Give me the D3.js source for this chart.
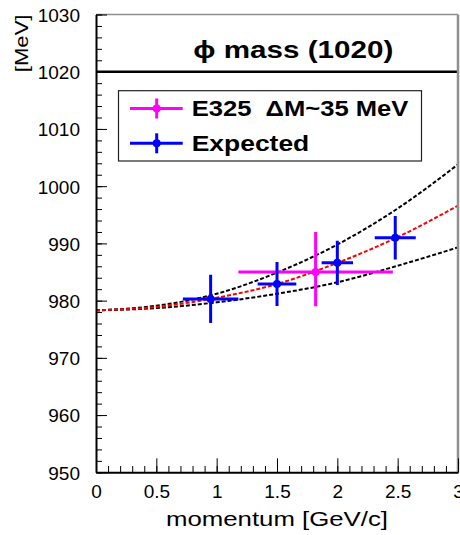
<!DOCTYPE html>
<html>
<head>
<meta charset="utf-8">
<script src="https://cdn.jsdelivr.net/npm/d3@7"></script>
<style>
  body { margin: 0; background: #fff; }
  text { font-family: "Liberation Sans", Helvetica, Arial, sans-serif; }
</style>
</head>
<body>
<script>
// curves
const momentum = [0, 0.5, 1, 1.5, 2, 2.5, 3];
const upperBand = [978.3, 979.1, 981.2, 984.9, 989.8, 996.1, 1003.8];
const centralCurve = [978.3, 978.9, 980.5, 982.9, 986.6, 991.1, 996.6];
const lowerBand = [978.3, 978.7, 979.7, 981.2, 983.2, 986.1, 989.3];

// E325 measurement
const e325P = [1.82];
const e325PErr = [0.64];
const e325M = [985.0];
const e325MErrUp = [7.0];
const e325MErrDown = [6.0];

// expected points
const expectedP = [0.95, 1.5, 2.0, 2.48];
const expectedPErr = [0.23, 0.16, 0.13, 0.17];
const expectedM = [980.3, 982.9, 986.6, 991.0];
const expectedMErr = [4.2, 3.85, 3.85, 3.8];

const phiMass = 1020;
const xTicks = [0, 0.5, 1, 1.5, 2, 2.5, 3];
const yTicks = [950, 960, 970, 980, 990, 1000, 1010, 1020, 1030];

const W = 460, H = 535;
const margin = { top: 14.5, right: 2, bottom: 62.7, left: 96 };

const svg = d3.select("body").append("svg")
    .attr("width", W)
    .attr("height", H);

const x = d3.scaleLinear().domain([0, 3]).range([margin.left, W - margin.right]);
const y = d3.scaleLinear().domain([950, 1030]).range([H - margin.bottom, margin.top]);

svg.append("clipPath").attr("id", "frame")
    .append("rect")
    .attr("x", x(0)).attr("y", y(1030))
    .attr("width", x(3) - x(0)).attr("height", y(950) - y(1030));

const plot = svg.append("g").attr("clip-path", "url(#frame)");

// curves
const line = d3.line()
    .x(d => x(d[0]))
    .y(d => y(d[1]))
    .curve(d3.curveMonotoneX);

const curves = [
    { vals: upperBand, color: "#000" },
    { vals: lowerBand, color: "#000" },
    { vals: centralCurve, color: "#ff0000" }
];
curves.forEach(c => {
    plot.append("path")
        .datum(momentum.map((p, i) => [p, c.vals[i]]))
        .attr("fill", "none")
        .attr("stroke", c.color)
        .attr("stroke-width", 2)
        .attr("stroke-dasharray", "4,2")
        .attr("d", line);
});

// phi mass line
plot.append("line")
    .attr("x1", x(0)).attr("x2", x(3))
    .attr("y1", y(phiMass)).attr("y2", y(phiMass))
    .attr("stroke", "#000")
    .attr("stroke-width", 2.5);

// error bar points
function drawPoints(ps, pErr, ms, mUp, mDown, color, r) {
    const g = plot.append("g");
    ps.forEach((p, i) => {
        g.append("line")
            .attr("x1", x(p - pErr[i])).attr("x2", x(p + pErr[i]))
            .attr("y1", y(ms[i])).attr("y2", y(ms[i]))
            .attr("stroke", color).attr("stroke-width", 3);
        g.append("line")
            .attr("x1", x(p)).attr("x2", x(p))
            .attr("y1", y(ms[i] + mUp[i])).attr("y2", y(ms[i] - mDown[i]))
            .attr("stroke", color).attr("stroke-width", 3);
        g.append("circle")
            .attr("cx", x(p)).attr("cy", y(ms[i]))
            .attr("r", r).attr("fill", color);
    });
}
drawPoints(e325P, e325PErr, e325M, e325MErrUp, e325MErrDown, "#ff00ff", 4);
drawPoints(expectedP, expectedPErr, expectedM, expectedMErr, expectedMErr, "#0000ff", 4);

// frame top / right (grey)
svg.append("line")
    .attr("x1", x(0)).attr("x2", x(3))
    .attr("y1", y(1030)).attr("y2", y(1030))
    .attr("stroke", "#909090").attr("stroke-width", 1.5);
svg.append("line")
    .attr("x1", x(3)).attr("x2", x(3))
    .attr("y1", y(1030)).attr("y2", y(950))
    .attr("stroke", "#909090").attr("stroke-width", 2.5);

// x axis
const xMinor = d3.range(0, 30.5, 1).map(v => v / 10);
svg.append("g")
    .attr("transform", "translate(0," + y(950) + ")")
    .call(d3.axisBottom(x).tickValues(xMinor).tickSize(-6.3).tickFormat(""))
    .call(g => g.select(".domain").remove());
const xAxis = svg.append("g")
    .attr("transform", "translate(0," + y(950) + ")")
    .call(d3.axisBottom(x).tickValues(xTicks).tickSize(-14).tickSizeOuter(0).tickPadding(12)
        .tickFormat(d3.format("")));
xAxis.select(".domain").attr("stroke-width", 2);
xAxis.selectAll("text").attr("font-size", 19).attr("fill", "#000").attr("dy", "0.72em");

// y axis
const yMinor = d3.range(950, 1031, 2);
svg.append("g")
    .attr("transform", "translate(" + x(0) + ",0)")
    .call(d3.axisLeft(y).tickValues(yMinor).tickSize(-6).tickFormat(""))
    .call(g => g.select(".domain").remove());
const yAxis = svg.append("g")
    .attr("transform", "translate(" + x(0) + ",0)")
    .call(d3.axisLeft(y).tickValues(yTicks).tickSize(-11).tickSizeOuter(0).tickPadding(16)
        .tickFormat(d3.format("d")));
yAxis.select(".domain").attr("stroke-width", 2);
yAxis.selectAll("text").attr("font-size", 19).attr("fill", "#000").attr("dy", "0.36em");

// axis titles
svg.append("text")
    .attr("x", (x(0) + x(3)) / 2)
    .attr("y", 526)
    .attr("text-anchor", "middle")
    .attr("font-size", 20)
    .attr("textLength", 222)
    .attr("lengthAdjust", "spacingAndGlyphs")
    .text("momentum [GeV/c]");

svg.append("text")
    .attr("transform", "translate(28," + y(1030) + ") rotate(-90)")
    .attr("text-anchor", "end")
    .attr("font-size", 18.5)
    .attr("textLength", 57.7)
    .attr("lengthAdjust", "spacingAndGlyphs")
    .text("[MeV]");

// title
svg.append("text")
    .attr("x", 293.3)
    .attr("y", 57.7)
    .attr("text-anchor", "middle")
    .attr("font-size", 24)
    .attr("font-weight", "bold")
    .attr("textLength", 200)
    .attr("lengthAdjust", "spacingAndGlyphs")
    .text("\u03D5 mass (1020)");

// legend
const legend = svg.append("g");
legend.append("rect")
    .attr("x", 118.5).attr("y", 90.7)
    .attr("width", 303).attr("height", 70.3)
    .attr("fill", "#fff")
    .attr("stroke", "#222").attr("stroke-width", 1.2);

const legendItems = [
    { label: "E325  \u0394M~35 MeV", color: "#ff00ff", cy: 108.5, len: 216.7 },
    { label: "Expected", color: "#0000ff", cy: 143.3, len: 117.6 }
];
legendItems.forEach(it => {
    legend.append("line")
        .attr("x1", 130).attr("x2", 182.7)
        .attr("y1", it.cy).attr("y2", it.cy)
        .attr("stroke", it.color).attr("stroke-width", 3);
    legend.append("line")
        .attr("x1", 156.7).attr("x2", 156.7)
        .attr("y1", it.cy - 10).attr("y2", it.cy + 10)
        .attr("stroke", it.color).attr("stroke-width", 3);
    legend.append("circle")
        .attr("cx", 156.7).attr("cy", it.cy).attr("r", 4)
        .attr("fill", it.color);
    legend.append("text")
        .attr("x", 191.7)
        .attr("y", it.cy + 7.3)
        .attr("font-size", 21.5)
        .attr("font-weight", "bold")
        .attr("textLength", it.len)
        .attr("lengthAdjust", "spacingAndGlyphs")
        .style("white-space", "pre")
        .text(it.label);
});
</script>
</body>
</html>
